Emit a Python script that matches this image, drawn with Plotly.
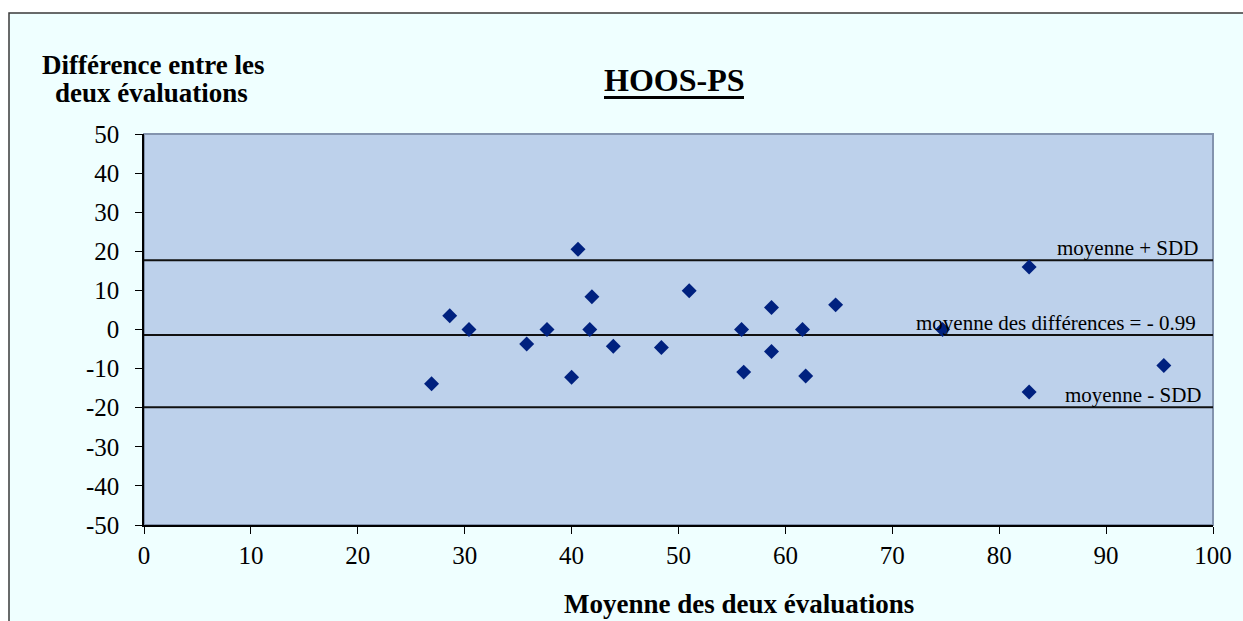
import plotly.graph_objects as go

# ---- data ----
mean_of_two = [26.9, 28.6, 30.4, 35.8, 37.7, 40.0, 40.6, 41.9, 41.7, 43.9, 48.4, 51.0,
               55.9, 56.1, 58.7, 58.7, 61.6, 61.9, 64.7, 74.7, 82.8, 82.8, 95.4]
difference = [-13.9, 3.5, 0, -3.7, 0, -12.2, 20.5, 8.4, 0, -4.3, -4.6, 9.9,
              0, -10.9, 5.6, -5.6, 0, -11.9, 6.3, 0, 16.0, -16.0, -9.2]
ref_names = ["moyenne + SDD", "moyenne des différences = - 0.99", "moyenne - SDD"]
ref_values = [17.7, -1.4, -19.9]
x_ticks = list(range(0, 101, 10))
y_ticks = list(range(-50, 51, 10))

W, H = 1243, 621
L, R, T, B = 144, 30, 134, 96
PW, PH = W - L - R, H - T - B


def px(x):
    return (x - L) / PW


def py(y):
    return (H - B - y) / PH


FONT = "Liberation Serif, Times New Roman, serif"
AZURE = "#EFFFFF"
PLOTBG = "#BDD1EB"

fig = go.Figure()

for v in ref_values:
    fig.add_trace(go.Scatter(x=[0, 100], y=[v, v], mode="lines",
                             line=dict(color="#111111", width=2),
                             hoverinfo="skip", showlegend=False))

fig.add_trace(go.Scatter(x=mean_of_two, y=difference, mode="markers",
                         marker=dict(symbol="diamond", size=11.5, color="#00217F",
                                     line=dict(width=0)),
                         showlegend=False))

shapes = [
    dict(type="rect", xref="paper", yref="paper", x0=px(9), x1=px(W + 20),
         y0=py(H + 20), y1=py(13), fillcolor=AZURE,
         line=dict(color="#3A3A3A", width=1.5), layer="below"),
    dict(type="rect", xref="paper", yref="paper", x0=0, x1=1, y0=0, y1=1,
         line=dict(color="#8394AE", width=2), layer="below", fillcolor=PLOTBG),
    dict(type="line", xref="paper", yref="paper", x0=px(604), x1=px(744),
         y0=py(97.5), y1=py(97.5), line=dict(color="black", width=3)),
]

annotations = [
    dict(text="<b>HOOS-PS</b>", xref="paper", yref="paper", x=px(674), y=py(92),
         xanchor="center", yanchor="bottom", showarrow=False,
         font=dict(family=FONT, size=32, color="black"), yshift=-8),
    dict(text="<b>Différence entre les</b>", xref="paper", yref="paper", x=px(153), y=py(75),
         xanchor="center", yanchor="bottom", showarrow=False,
         font=dict(family=FONT, size=27, color="black"), yshift=-7),
    dict(text="<b>deux évaluations</b>", xref="paper", yref="paper", x=px(151), y=py(103),
         xanchor="center", yanchor="bottom", showarrow=False,
         font=dict(family=FONT, size=27, color="black"), yshift=-7),
    dict(text="<b>Moyenne des deux évaluations</b>", xref="paper", yref="paper", x=px(739), y=py(614),
         xanchor="center", yanchor="bottom", showarrow=False,
         font=dict(family=FONT, size=27, color="black"), yshift=-7),
]
label_right = [1200, 1198, 1203]
for name, v, xr in zip(ref_names, ref_values, label_right):
    annotations.append(dict(text=name, xref="paper", yref="y", x=px(xr), y=v,
                            xanchor="right", yanchor="bottom", showarrow=False,
                            font=dict(family=FONT, size=21, color="black"), yshift=-2))

fig.update_layout(
    width=W, height=H,
    margin=dict(l=L, r=R, t=T, b=B, pad=0, autoexpand=False),
    paper_bgcolor="white",
    plot_bgcolor="rgba(0,0,0,0)",
    shapes=shapes,
    annotations=annotations,
    font=dict(family=FONT, size=25, color="black"),
    hovermode=False,
)
fig.update_xaxes(range=[0, 100], tickvals=x_ticks, ticktext=[str(t) for t in x_ticks],
                 showgrid=False, zeroline=False, showline=True, linecolor="black", linewidth=1.5,
                 ticks="outside", ticklen=7, tickcolor="black", tickwidth=1,
                 tickfont=dict(family=FONT, size=25, color="black"), ticklabelstandoff=0,
                 automargin=False, fixedrange=True)
fig.update_yaxes(range=[-50, 50], tickvals=y_ticks, ticktext=[str(t) for t in y_ticks],
                 showgrid=False, zeroline=False, showline=True, linecolor="black", linewidth=1.5,
                 ticks="outside", ticklen=7, tickcolor="black", tickwidth=1,
                 tickfont=dict(family=FONT, size=25, color="black"), ticklabelstandoff=11,
                 automargin=False, fixedrange=True)

fig.write_html("out.html", config={"displayModeBar": False},
               post_script="document.body.style.margin='0';document.documentElement.style.overflow='hidden';")
